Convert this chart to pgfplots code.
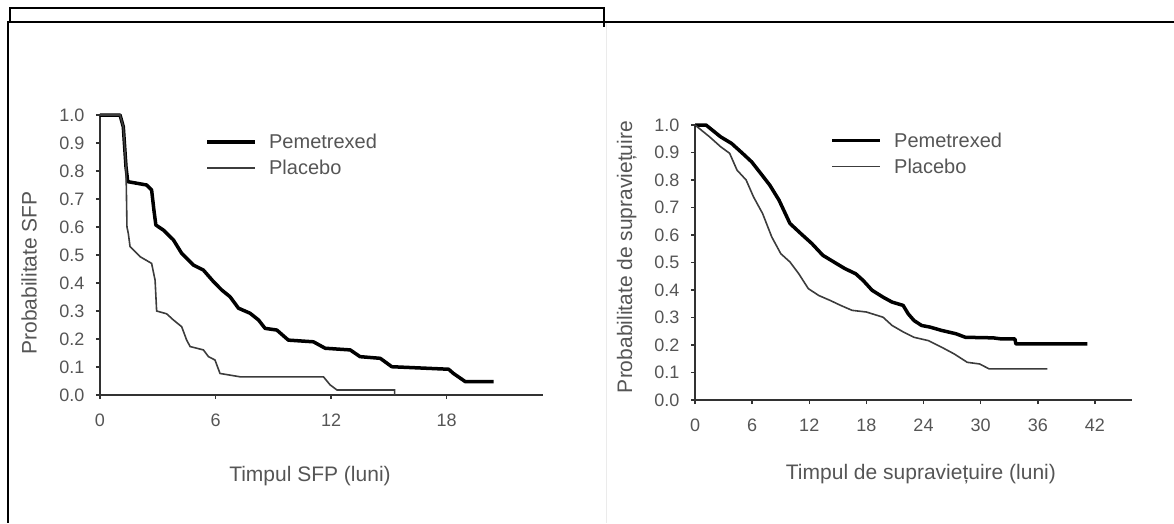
\documentclass[border=0pt]{standalone}
\usepackage{fontspec}
\setmainfont{Liberation Sans}
\usepackage{pgfplots}
\pgfplotsset{compat=1.18}

\definecolor{txt}{RGB}{85,85,85}
\definecolor{axc}{RGB}{50,50,50}
\definecolor{plc}{RGB}{60,60,60}

% Kaplan-Meier curves
\pgfplotstableread{
x y
0 1.0
1.04 1.0
1.21 0.958
1.35 0.815
1.44 0.762
2.42 0.75
2.68 0.732
2.80 0.66
2.90 0.607
3.29 0.589
3.81 0.554
4.24 0.506
4.85 0.464
5.37 0.446
5.89 0.405
6.32 0.375
6.75 0.351
7.19 0.31
7.79 0.292
8.23 0.268
8.57 0.238
9.18 0.232
9.78 0.196
11.08 0.19
11.69 0.167
12.99 0.161
13.50 0.137
14.55 0.131
15.15 0.101
18.10 0.092
18.35 0.077
18.96 0.048
20.43 0.048
}\sfpPem
\pgfplotstableread{
x y
0 1.0
1.04 1.0
1.21 0.958
1.35 0.815
1.40 0.60
1.47 0.577
1.56 0.53
2.08 0.494
2.68 0.47
2.86 0.41
2.94 0.30
3.46 0.29
3.81 0.268
4.24 0.244
4.50 0.196
4.68 0.173
5.37 0.161
5.63 0.137
5.97 0.125
6.23 0.077
7.27 0.065
11.60 0.065
11.95 0.036
12.30 0.018
15.30 0.018
15.30 0.0
}\sfpPla
\pgfplotstableread{
x y
0 1.0
1.15 1.0
2.69 0.957
3.84 0.933
4.99 0.897
5.95 0.866
6.90 0.824
7.86 0.781
8.82 0.727
9.97 0.642
11.12 0.605
12.27 0.569
13.43 0.526
14.58 0.502
15.73 0.478
16.88 0.459
17.65 0.435
18.60 0.399
19.75 0.374
20.70 0.356
21.86 0.344
22.40 0.313
23.00 0.289
23.80 0.271
24.70 0.265
25.90 0.253
27.40 0.241
28.40 0.228
31.30 0.226
32.20 0.222
33.60 0.222
33.70 0.204
41.20 0.204
}\osPem
\pgfplotstableread{
x y
0 1.0
1.53 0.957
2.69 0.921
3.64 0.897
4.41 0.836
5.37 0.80
6.14 0.739
7.10 0.678
8.06 0.593
9.01 0.532
9.97 0.502
10.90 0.459
11.90 0.405
13.00 0.38
14.20 0.362
15.30 0.344
16.50 0.326
18.00 0.32
19.75 0.301
20.70 0.271
21.90 0.247
23.00 0.228
24.50 0.216
25.90 0.192
27.20 0.168
28.60 0.137
29.90 0.131
30.90 0.113
37.00 0.113
}\osPla

\pgfplotsset{km/.style={
  scale only axis, anchor=south west,
  axis lines=left, axis line style={-, axc},
  x axis line style={line width=2.2pt},
  y axis line style={line width=1.4pt},
  ymin=0, ymax=1,
  ytick={0,0.1,0.2,0.3,0.4,0.5,0.6,0.7,0.8,0.9,1.0},
  y tick label style={/pgf/number format/.cd, fixed, fixed zerofill, precision=1, /tikz/.cd},
  /pgf/number format/assume math mode=true,
  tick label style={font=\fontsize{18}{18}\selectfont, text=txt},
  yticklabel style={xshift=-8pt},
  xticklabel style={yshift=-11pt},
  tick align=outside, major tick length=4pt,
  tick style={axc, line width=1.5pt},
  label style={font=\fontsize{21}{21}\selectfont, text=txt},
  xlabel style={anchor=center},
  ylabel style={anchor=center},
  legend style={draw=none, fill=none, font=\fontsize{20}{20}\selectfont,
    text=txt, inner sep=0pt, row sep=6pt, column sep=10pt, anchor=north west},
  legend cell align=left,
  legend image code/.code={\draw[#1] (0pt,0pt) -- (48pt,0pt);},
  clip=false,
}}

\begin{document}
\begin{tikzpicture}[x=1pt,y=1pt]
\useasboundingbox (0,0) rectangle (1174,523);

\begin{axis}[km, at={(100pt,128pt)}, width=443pt, height=280pt,
  xmin=0, xmax=23, xtick={0,6,12,18},
  xlabel={Timpul SFP (luni)}, ylabel={Probabilitate SFP},
  xlabel style={at={(axis description cs:0.474,-0.29)}},
  ylabel style={at={(axis description cs:-0.16,0.436)}},
  legend style={at={(axis description cs:0.238,0.94)}}]
\addplot[black, line width=3.5pt, line join=round] table {\sfpPem};
\addlegendentry{Pemetrexed}
\addplot[plc, line width=1.6pt] table {\sfpPla};
\addlegendentry{Placebo}
\end{axis}

\begin{axis}[km, at={(695pt,123pt)}, width=437pt, height=275pt,
  xmin=0, xmax=45.9, xtick={0,6,12,18,24,30,36,42},
  xlabel={Timpul de supraviețuire (luni)}, ylabel={Probabilitate de supraviețuire},
  xlabel style={at={(axis description cs:0.517,-0.27)}},
  ylabel style={at={(axis description cs:-0.156,0.52)}},
  legend style={at={(axis description cs:0.31,0.98)}}]
\addplot[black, line width=3.5pt, line join=round] table {\osPem};
\addlegendentry{Pemetrexed}
\addplot[plc, line width=1.6pt] table {\osPla};
\addlegendentry{Placebo}
\end{axis}

% page frame of the scan
\draw[line width=2pt] (10,515) rectangle (604,501);
\draw[line width=2pt] (604,501) -- (604,496);
\draw[line width=2pt] (8,501) -- (1174,501);
\draw[line width=2pt] (8,502) -- (8,0);
\draw[black!8, line width=1pt] (606,500) -- (606,0);
\end{tikzpicture}
\end{document}
